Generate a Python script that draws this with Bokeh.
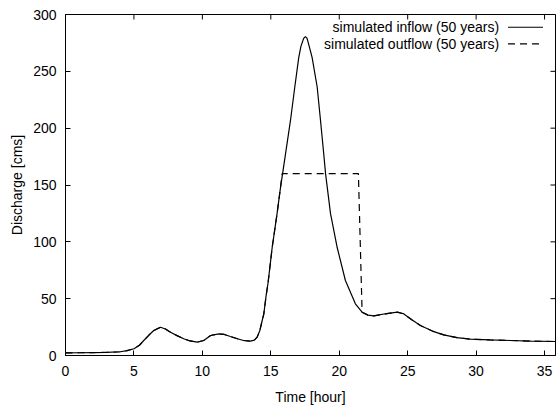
import math
from bokeh.plotting import figure
from bokeh.models import Range1d, FixedTicker, Label
from bokeh.embed import file_html
from bokeh.resources import INLINE

# --- data ---
time_in = [0, 1, 2, 3, 4, 4.5, 5, 5.4, 5.72, 6.1, 6.45, 6.94, 7.3, 7.67, 8.15, 8.64,
           9.1, 9.62, 10.1, 10.6, 11.2, 11.6, 12.05, 12.5, 13.0, 13.5, 13.8, 14.0,
           14.2, 14.37, 14.49, 14.65, 14.8, 15.1, 15.46, 15.7, 16.07, 16.44, 16.75,
           17.04, 17.2, 17.4, 17.53, 17.65, 17.85, 18.02, 18.39, 18.63, 18.87, 19.0,
           19.36, 19.85, 20.45, 21.18, 21.67, 22.1, 22.52, 23.37, 24.23, 24.7, 25.3,
           25.93, 26.8, 27.63, 28.6, 29.58, 31.0, 32.5, 34.0, 35.8, 36.0]
inflow = [2.3, 2.4, 2.6, 2.8, 3.3, 4.3, 5.9, 9, 13.2, 18, 22, 24.9, 23.3, 20.5, 17.5,
          14.7, 12.8, 11.7, 13.2, 17.6, 19, 18.5, 16.7, 15, 13.2, 12.6, 13.5, 16.1,
          22, 30.8, 36.7, 52, 64, 95, 125, 147, 177, 207, 236, 262, 272, 279, 280.6,
          279, 270, 262, 236, 207, 177, 160, 125, 95, 66, 45.5, 38.1, 35.5, 34.8,
          36.7, 38.1, 36.7, 31.5, 26.4, 21.5, 18.2, 15.8, 14.4, 13.7, 13.2, 12.7,
          12.3, 12.3]

time_out = [0, 1, 2, 3, 4, 4.5, 5, 5.4, 5.72, 6.1, 6.45, 6.94, 7.3, 7.67, 8.15, 8.64,
            9.1, 9.62, 10.1, 10.6, 11.2, 11.6, 12.05, 12.5, 13.0, 13.5, 13.8, 14.0,
            14.2, 14.37, 14.49, 14.65, 14.8, 15.1, 15.46, 15.7, 15.83, 21.4, 21.67,
            22.1, 22.52, 23.37, 24.23, 24.7, 25.3, 25.93, 26.8, 27.63, 28.6, 29.58,
            31.0, 32.5, 34.0, 35.8, 36.0]
outflow = [2.3, 2.4, 2.6, 2.8, 3.3, 4.3, 5.9, 9, 13.2, 18, 22, 24.9, 23.3, 20.5, 17.5,
           14.7, 12.8, 11.7, 13.2, 17.6, 19, 18.5, 16.7, 15, 13.2, 12.6, 13.5, 16.1,
           22, 30.8, 36.7, 52, 64, 95, 125, 147, 160, 160, 38.1, 35.5, 34.8, 36.7,
           38.1, 36.7, 31.5, 26.4, 21.5, 18.2, 15.8, 14.4, 13.7, 13.2, 12.7, 12.3, 12.3]

x_ticks = [0, 5, 10, 15, 20, 25, 30, 35]
y_ticks = [0, 50, 100, 150, 200, 250, 300]
x_max = 35.8
y_max = 300
series_names = ["simulated inflow (50 years)", "simulated outflow (50 years)"]

FONT = "Liberation Sans"
FS = "14px"

p = figure(width=556, height=410, output_backend="svg", toolbar_location=None,
           x_range=Range1d(0, x_max), y_range=Range1d(0, y_max),
           min_border_left=65, min_border_right=1, min_border_top=14,
           min_border_bottom=55)
p.xgrid.visible = False
p.ygrid.visible = False
p.outline_line_color = "black"
p.outline_line_width = 1
p.background_fill_color = "white"
p.border_fill_color = "white"

for ax in (p.xaxis[0], p.yaxis[0]):
    ax.major_tick_in = 5
    ax.major_tick_out = 0
    ax.minor_tick_in = 0
    ax.minor_tick_out = 0
    ax.axis_line_color = "black"
    ax.major_tick_line_color = "black"
    ax.major_label_text_font = FONT
    ax.major_label_text_font_size = FS
    ax.major_label_text_color = "black"
    ax.axis_label_text_font = FONT
    ax.axis_label_text_font_size = FS
    ax.axis_label_text_font_style = "normal"
    ax.axis_label_text_color = "black"

p.xaxis[0].ticker = FixedTicker(ticks=x_ticks)
p.yaxis[0].ticker = FixedTicker(ticks=y_ticks)
p.xaxis[0].axis_label = "Time [hour]"
p.yaxis[0].axis_label = "Discharge [cms]"
p.xaxis[0].major_label_standoff = 10
p.xaxis[0].axis_label_standoff = 10
p.yaxis[0].major_label_standoff = 9
p.yaxis[0].axis_label_standoff = 5

# mirror ticks on the top and right edges (screen-length rays from the tick values)
p.ray(x=x_ticks, y=[y_max] * len(x_ticks), length=5, length_units="screen",
      angle=-math.pi / 2, line_color="black", line_width=1)
p.ray(x=[x_max] * len(y_ticks), y=y_ticks, length=5, length_units="screen",
      angle=math.pi, line_color="black", line_width=1)

p.line(time_in, inflow, line_color="black", line_width=1.2)
p.line(time_out, outflow, line_color="black", line_width=1.2, line_dash="7 5")

# legend (text right-aligned, sample to the right, gnuplot style)
leg_text_x = 31.68
leg_sample_x = 32.33
leg_y = [288.8, 274.2]
leg_dash = ["solid", "7 5"]
for name, yv, dash in zip(series_names, leg_y, leg_dash):
    p.add_layout(Label(x=leg_text_x, y=yv, text=name, text_align="right",
                       text_baseline="middle", text_font=FONT, text_font_size=FS,
                       text_color="black"))
    p.ray(x=[leg_sample_x], y=[yv], length=35, length_units="screen", angle=0,
          line_color="black", line_width=1.2, line_dash=dash)

open("out.html", "w").write(file_html(p, INLINE))
